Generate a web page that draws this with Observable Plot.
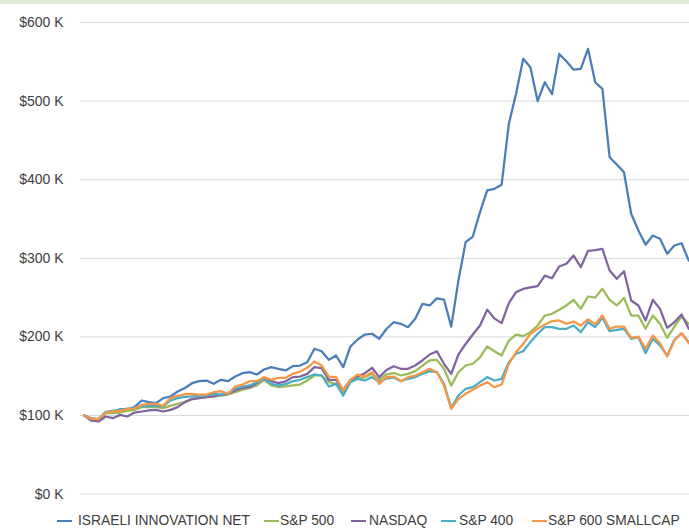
<!DOCTYPE html>
<html><head><meta charset="utf-8">
<script src="https://cdn.jsdelivr.net/npm/d3@7"></script>
<script src="https://cdn.jsdelivr.net/npm/@observablehq/plot@0.6"></script>
<style>
body{margin:0;background:#fff;font-family:"Liberation Sans",Arial,sans-serif;width:689px;height:529px;overflow:hidden;}
#strip{height:4px;background:#e1e9d7;}
#legend{position:relative;height:25px;font-size:13.8px;color:#404040;}
#legend .sw{position:absolute;top:16px;height:2.25px;width:15px;}
#legend .tx{position:absolute;top:8px;line-height:18px;white-space:nowrap;}
</style></head><body>
<div id="strip"></div><div id="chart"></div><div id="legend"></div>
<script>
const seriesNames = ["ISRAELI INNOVATION NET", "S&P 500", "NASDAQ", "S&P 400", "S&P 600 SMALLCAP"];
const seriesColors = ["#4a7ebb", "#9bbb59", "#8064a2", "#4bacc6", "#f79646"];
const yTicks = [0, 100, 200, 300, 400, 500, 600];
const months = d3.range(85); // monthly points, $ thousands

const israeli = [100,95.8,94.5,103.8,105.1,108,107.2,110.6,119.1,117,115.7,122.1,124.2,130.5,135,141.1,143.7,144.5,140.3,145.4,143.7,149.6,153.8,155.1,152.2,158.5,161.5,159.4,157.3,162.8,163.6,167.8,184.9,181.8,170.8,176.3,161.5,187.8,196.7,203,204,197.6,210,218.7,216.6,212.4,223,242,240,249,247.5,213,271.8,320.5,327.7,358.7,386.5,388.4,393.5,471,509,553.8,543,500,524,509,560,550.8,540,541,566.5,524,515.6,428.6,419.3,409.5,356.6,335.4,317.2,329,324.8,305.7,316.3,319.2,297];
const sp500 = [100,95.8,95.3,103,103,103.8,105.9,107.2,110.6,110.6,110.6,109.3,112.3,114.8,117.4,120.4,122.5,123.3,124.2,125.4,126.7,129.6,132.7,135.2,138.2,145.4,138.2,136,137,138.2,139.4,144.5,150.9,150.9,142.4,140.3,129.6,144.5,146.7,148.8,153,145.4,152.3,154,150.9,153,156.4,163.6,170,170.8,159.4,138,155,163.6,165.8,174,187.8,181.8,176.3,195.4,203,201,206,214.5,227.2,229.4,234.5,240,247.2,235.7,251.4,250,261.2,247.2,240,249.7,227.2,227.2,210.3,227.2,216.6,198.8,213.2,226,216.6];
const nasdaq = [100,93.6,92.4,98.7,96.6,100.8,98.7,103.8,105.1,106.4,107.2,105.1,107.2,110.6,117,121.2,122,123.3,124.2,126.7,127.6,131.8,135.2,136,141.1,148,143.7,141.1,143.5,148.8,149.6,153,161.5,160.2,145.4,145.4,132.7,145.4,149.6,153.8,160.7,148.8,157.8,162.6,159.4,159.4,163.6,170,177.6,181.8,165.8,153,177.6,191,203,214.5,234.7,223.5,217.5,243,257,261,263,264.5,278,274.7,289.6,293,303.5,288.7,309.5,310.4,312,284.5,273.9,283.6,246.3,240,220.9,247.2,235.7,211.6,218.7,228.5,210.3];
const sp400 = [100,96.6,95.3,104.7,105.9,107.2,108.9,109.3,111.5,112.3,112.3,111.5,119.1,122.1,123.8,124.2,125.4,125.4,127.6,126.7,128.4,134,136.9,138.2,142.4,146.7,140.3,138.2,139.8,143.7,145.4,148.8,152.2,150.9,136.9,140.3,125.4,142.4,146.7,144.5,148.8,142.4,147,148.4,143.7,146.7,148.8,153,156.4,155.1,140.3,109.8,125.4,134,136,142.4,148.8,144.5,146.7,167.8,178.5,181.8,193.3,204,212.4,212.4,210.3,210.3,214.5,206,218.7,212.4,224.3,207.3,209,210.3,197.6,199.6,179.3,197.6,189,176.3,196.3,204.7,193.3];
const sp600 = [100,95.8,95.3,103.8,105.1,105.9,108,108.9,113.6,114.8,114.8,112.3,122.1,125,127.2,127.6,126.7,126.7,129.6,131,127.6,136.9,139.4,143.7,143.7,148.8,145.4,148,148,153,156,160.7,168.7,163.6,149.6,148.8,131.8,145.4,152.2,149.6,155.1,140.3,148.8,149.6,143.7,148.8,150.9,155.1,159.4,155.1,138,108.5,121.2,127.6,132.7,138,142.4,136,139.4,165.8,180.5,191.2,204,210.3,215.8,220,220.9,216.6,219.6,214.5,222.4,216.2,227.2,210.3,213.2,213.2,198.8,200.5,184.8,201.8,192,175,195.4,204.7,192];

const seriesValues = [israeli, sp500, nasdaq, sp400, sp600];
const rows = seriesNames.flatMap((name, s) => months.map((m, i) => ({month: m, value: seriesValues[s][i], series: name})));

const chart = Plot.plot({
  width: 689,
  height: 500,
  marginLeft: 80,
  marginRight: 0,
  marginTop: 18,
  marginBottom: 10.4,
  style: {fontFamily: '"Liberation Sans",Arial,sans-serif', fontSize: "14px", color: "#404040", background: "#fff", overflow: "visible"},
  x: {domain: [-0.5, 84.1], axis: null},
  y: {domain: [0, 600], ticks: yTicks, tickSize: 0, tickPadding: 17, tickFormat: d => `$${d} K`, label: null},
  color: {domain: seriesNames, range: seriesColors},
  marks: [
    Plot.ruleY(yTicks, {stroke: "#d9d9d9", strokeWidth: 1}),
    Plot.line(rows, {x: "month", y: "value", z: "series", stroke: "series", strokeWidth: 2.25, strokeLinejoin: "round", strokeLinecap: "round"})
  ]
});
document.getElementById("chart").appendChild(chart);

const legendPos = [[57, 78], [264, 280], [351, 369], [441, 459], [532, 548]];
const legend = document.getElementById("legend");
seriesNames.forEach((name, i) => {
  const sw = document.createElement("div");
  sw.className = "sw"; sw.style.left = legendPos[i][0] + "px"; sw.style.background = seriesColors[i];
  const tx = document.createElement("div");
  tx.className = "tx"; tx.style.left = legendPos[i][1] + "px"; tx.textContent = name;
  legend.appendChild(sw); legend.appendChild(tx);
});
</script>
</body></html>
